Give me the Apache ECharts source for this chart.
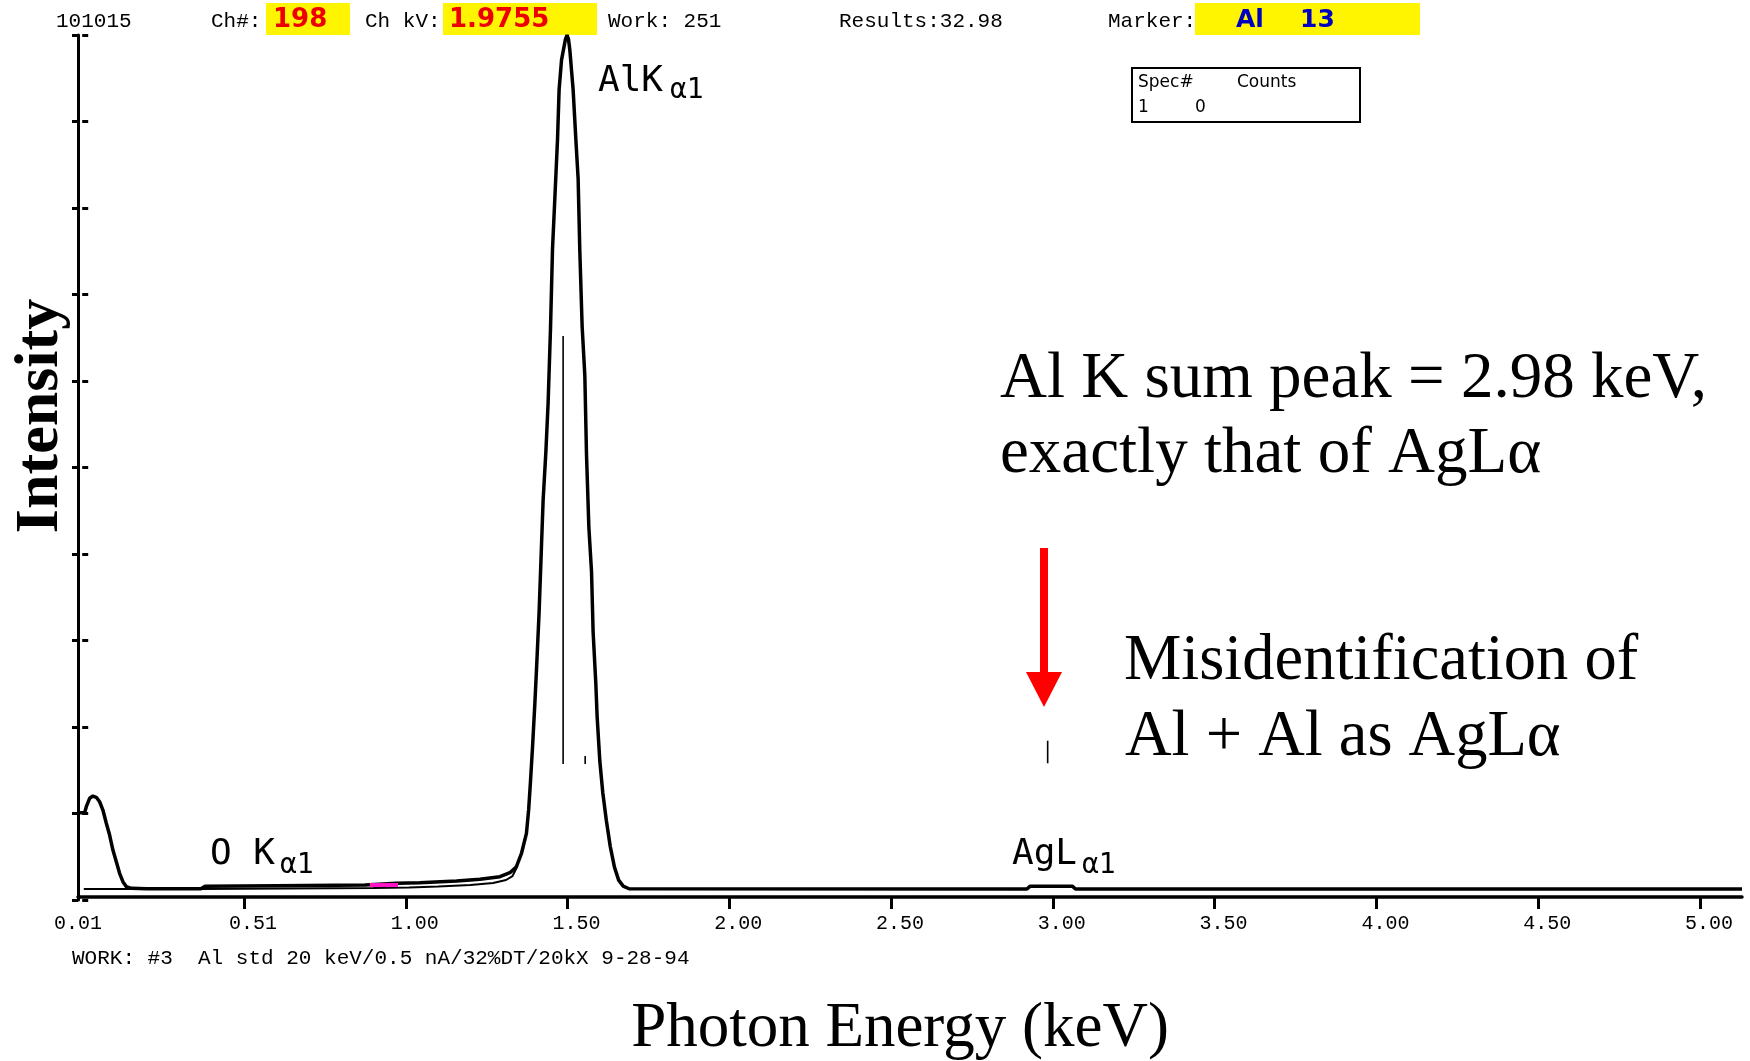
<!DOCTYPE html>
<html><head><meta charset="utf-8">
<script src="https://cdn.jsdelivr.net/npm/echarts@6/dist/echarts.min.js"></script>
<style>html,body{margin:0;padding:0;background:#fff}#c{width:1750px;height:1061px}</style>
</head><body><div id="c"></div>
<script>
// ---- Data (energy in keV, intensity in arbitrary units 0..10) ----
const energyKeV = [-0.008,0.0074,0.0127,0.0229,0.0331,0.0436,0.0538,0.064,0.0745,0.0847,0.0949,0.1054,0.1156,0.1258,0.1364,0.1518,0.2,0.367,0.38,0.6,0.874,0.971,1.043,1.157,1.229,1.291,1.322,1.342,1.358,1.373,1.380,1.386,1.392,1.399,1.4042,1.4122,1.4196,1.4246,1.4329,1.44,1.4474,1.4536,1.4607,1.4691,1.474,1.4815,1.4935,1.4985,1.503,1.5071,1.5173,1.5257,1.5328,1.538,1.5451,1.5535,1.5587,1.5659,1.5742,1.5791,1.5875,1.5915,1.5998,1.609,1.62,1.632,1.645,1.658,1.672,1.69,2.92,2.93,3.06,3.07,5.13];
const intensity = [1.009,1.009,1.079,1.176,1.202,1.187,1.136,1.04,0.887,0.751,0.578,0.443,0.309,0.212,0.154,0.135,0.13,0.13,0.16,0.165,0.173,0.193,0.2,0.22,0.239,0.269,0.316,0.385,0.543,0.77,1.05,1.40,1.78,2.27,2.671,3.329,4.104,4.624,5.17,5.746,6.607,7.527,8.104,8.793,9.368,9.713,9.95,10.0,9.95,9.827,9.368,8.793,8.335,7.503,6.636,6.061,5.145,4.312,3.792,3.098,2.497,2.121,1.607,1.24,0.92,0.62,0.38,0.23,0.16,0.13,0.127,0.16,0.16,0.127,0.127];
const overlayKeV = [0.005,0.37,0.9,1.01,1.1,1.2,1.27,1.31,1.33,1.345];
const overlayIntensity = [0.127,0.127,0.14,0.145,0.156,0.173,0.197,0.231,0.277,0.39];
const markerNames = ['AlKα1','AlKβ1','AgLα1'];
const markerKeV = [1.4864,1.5545,2.984];
const markerLow = [1.572,1.572,1.58];
const markerHigh = [6.52,1.665,1.84];
const roiKeV = [0.889,0.976];
const roiIntensity = [0.173,0.173];
const xTickValues = [0.5,1.0,1.5,2.0,2.5,3.0,3.5,4.0,4.5,5.0];
const xLabelValues = [-0.013,0.5,1.0,1.5,2.0,2.5,3.0,3.5,4.0,4.5,5.0];
const xTickLabels = ['0.01','0.51','1.00','1.50','2.00','2.50','3.00','3.50','4.00','4.50','5.00'];

const MONO = '"Liberation Mono", "DejaVu Sans Mono", monospace';
const MONO2 = '"DejaVu Sans Mono", monospace';
const SERIF = '"Liberation Serif", "Times New Roman", serif';
const SANS = '"DejaVu Sans", sans-serif';

const zip = (a, b) => a.map((v, i) => [v, b[i]]);

const chart = echarts.init(document.getElementById('c'), null, {renderer: 'canvas'});

const markerSeries = markerKeV.map((e, i) => ({
  type: 'line', name: markerNames[i], data: [[e, markerLow[i]], [e, markerHigh[i]]],
  showSymbol: false, silent: true, z: 4,
  lineStyle: {color: '#000', width: 1.6}
}));

function txt(text, x, y, font, opts) {
  return Object.assign({type: 'text', x: x, y: y, silent: true,
    style: Object.assign({text: text, font: font, fill: '#000', align: 'left', verticalAlign: 'middle'}, (opts && opts.style) || {})},
    opts && opts.extra ? opts.extra : {});
}

const graphics = [
  // header yellow boxes
  {type: 'rect', shape: {x: 266, y: 3, width: 84, height: 32}, style: {fill: '#fff500'}, silent: true},
  {type: 'rect', shape: {x: 443, y: 3, width: 154, height: 32}, style: {fill: '#fff500'}, silent: true},
  {type: 'rect', shape: {x: 1195, y: 3, width: 225, height: 32}, style: {fill: '#fff500'}, silent: true},
  txt('101015', 56, 21, '21px ' + MONO),
  txt('Ch#:', 211, 21, '21px ' + MONO),
  txt('198', 273, 20, 'bold 26px ' + SANS, {style: {fill: '#ee0000'}}),
  txt('Ch kV:', 365, 21, '21px ' + MONO),
  txt('1.9755', 449, 20, 'bold 26px ' + SANS, {style: {fill: '#ee0000'}}),
  txt('Work: 251', 608, 21, '21px ' + MONO),
  txt('Results:32.98', 839, 21, '21px ' + MONO),
  txt('Marker:', 1108, 21, '21px ' + MONO),
  txt('Al', 1236, 20, 'bold 25px ' + SANS, {style: {fill: '#0000c0'}}),
  txt('13', 1300, 20, 'bold 25px ' + SANS, {style: {fill: '#0000c0'}}),
  // spectrum legend box
  {type: 'rect', shape: {x: 1132, y: 68, width: 228, height: 54}, style: {fill: '#fff', stroke: '#000', lineWidth: 2}, silent: true, z: 10},
  txt('Spec#', 1138, 83, '17px ' + SANS, {extra: {z: 11}}),
  txt('Counts', 1237, 83, '17px ' + SANS, {extra: {z: 11}}),
  txt('1', 1138, 108, '17px ' + SANS, {extra: {z: 11}}),
  txt('0', 1195, 108, '17px ' + SANS, {extra: {z: 11}}),
  // peak labels
  txt('AlK', 598, 82, '36px ' + MONO2),
  txt('α1', 670, 91, '28px ' + MONO2),
  txt('O K', 210, 855, '36px ' + MONO2),
  txt('α1', 280, 866, '28px ' + MONO2),
  txt('AgL', 1012, 855, '36px ' + MONO2),
  txt('α1', 1082, 866, '28px ' + MONO2),
  // bottom info line
  txt('WORK: #3  Al std 20 keV/0.5 nA/32%DT/20kX 9-28-94', 72, 958, '21px ' + MONO),
  // annotations
  txt('Al K sum peak = 2.98 keV,', 1000, 380, '65px ' + SERIF),
  txt('exactly that of AgLα', 1000, 455, '65px ' + SERIF),
  txt('Misidentification of', 1124, 662, '64.5px ' + SERIF),
  txt('Al + Al as AgLα', 1125, 738, '64.5px ' + SERIF),
  // red arrow
  {type: 'rect', shape: {x: 1040, y: 548, width: 8, height: 126}, style: {fill: '#ff0000'}, silent: true},
  {type: 'polygon', shape: {points: [[1026, 672], [1062, 672], [1044, 707]]}, style: {fill: '#ff0000'}, silent: true},
  // axis titles
  txt('Photon Energy (keV)', 900, 1029, '63px ' + SERIF, {style: {align: 'center'}}),
  {type: 'text', x: 41, y: 416, rotation: Math.PI / 2, silent: true,
   style: {text: 'Intensity', font: 'bold 62px ' + SERIF, fill: '#000', align: 'center', verticalAlign: 'middle'}}
];

const option = {
  backgroundColor: '#fff',
  animation: false,
  grid: {left: 78, right: 8, top: 35, bottom: 161, containLabel: false},
  xAxis: {
    type: 'value', min: -0.013, max: 5.13, offset: -3,
    axisLine: {show: true, onZero: false, lineStyle: {color: '#000', width: 3.5}},
    axisTick: {show: true, customValues: xTickValues, length: 12, lineStyle: {color: '#000', width: 3}},
    axisLabel: {
      show: true, customValues: xLabelValues, margin: 17, color: '#000',
      fontFamily: MONO, fontSize: 20,
      formatter: function (v) {
        let idx = 0, best = 1e9;
        xLabelValues.forEach((lv, i) => { const d = Math.abs(lv - v); if (d < best) { best = d; idx = i; } });
        return idx === 0 ? '{a|' + xTickLabels[idx] + '}' : '{b|' + xTickLabels[idx] + '}';
      },
      rich: {
        a: {fontFamily: MONO, fontSize: 20, color: '#000'},
        b: {fontFamily: MONO, fontSize: 20, color: '#000', padding: [0, 0, 0, 18]}
      }
    },
    splitLine: {show: false}
  },
  yAxis: [
    {type: 'value', min: 0, max: 10, interval: 1, position: 'left',
     axisLine: {show: true, onZero: false, lineStyle: {color: '#000', width: 3}},
     axisTick: {show: true, inside: false, length: 6, lineStyle: {color: '#000', width: 3}},
     axisLabel: {show: false}, splitLine: {show: false}},
    {type: 'value', min: 0, max: 10, interval: 1, position: 'left', offset: 0,
     axisLine: {show: false},
     axisTick: {show: true, inside: true, length: 6, lineStyle: {color: '#000', width: 3}},
     axisLabel: {show: false}, splitLine: {show: false}}
  ],
  series: [
    {type: 'line', name: 'overlay', data: zip(overlayKeV, overlayIntensity), showSymbol: false, silent: true, z: 2,
     lineStyle: {color: '#000', width: 2}},
    {type: 'line', name: 'spectrum', data: zip(energyKeV, intensity), showSymbol: false, silent: true, z: 3,
     lineStyle: {color: '#000', width: 3.5}},
    {type: 'line', name: 'roi', data: zip(roiKeV, roiIntensity), showSymbol: false, silent: true, z: 5,
     lineStyle: {color: '#ff14c8', width: 4}}
  ].concat(markerSeries),
  graphic: graphics
};
chart.setOption(option);
</script>
</body></html>
